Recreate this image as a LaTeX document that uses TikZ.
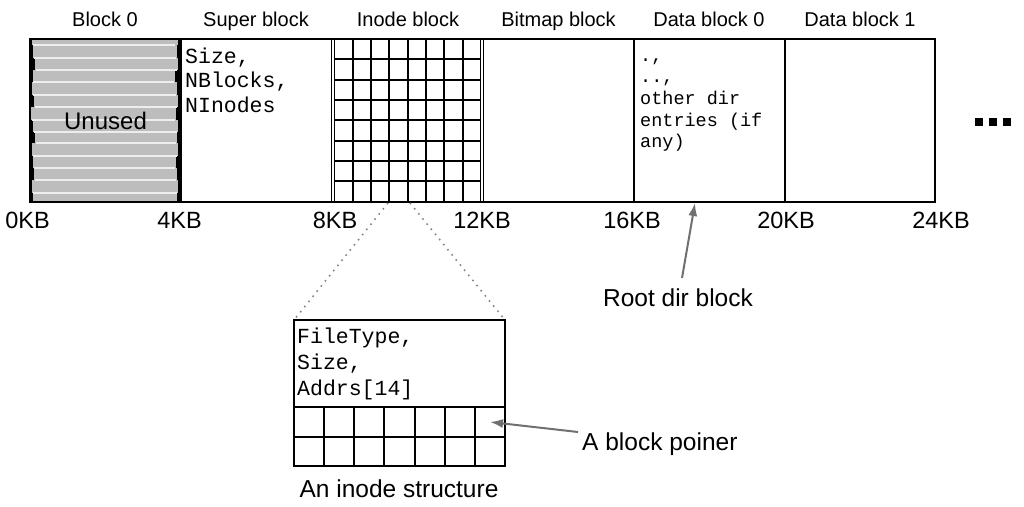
\documentclass[tikz,border=0pt]{standalone}
\usepackage{fontspec}
\setmainfont{Liberation Sans}
\setmonofont{Liberation Mono}
\usetikzlibrary{arrows.meta}
\definecolor{stripegray}{HTML}{BDBDBD}
\definecolor{stripelight}{HTML}{EDEDED}
\definecolor{arrowgray}{HTML}{707070}
\definecolor{dotgray}{HTML}{858585}
\begin{document}
\begin{tikzpicture}[x=1pt,y=-1pt,
  toplbl/.style={font=\fontsize{20}{24}\selectfont, anchor=base, inner sep=0pt},
  kblbl/.style={font=\fontsize{23.5}{28}\selectfont, anchor=base, inner sep=0pt},
  biglbl/.style={font=\fontsize{24.5}{29}\selectfont, anchor=base, inner sep=0pt},
  monotxt/.style={anchor=base west, inner sep=0pt},
  blkline/.style={line width=2pt},
  thinline/.style={line width=1pt},
  ptr/.style={draw=arrowgray, line width=2pt, -{Latex[length=13pt,width=9pt]}},
  zoomline/.style={draw=dotgray, line width=1.6pt, dash pattern=on 1.6pt off 5pt},
  boxnode/.style={draw, line width=2pt, inner sep=0pt, outer sep=0pt}]
\useasboundingbox (0,0) rectangle (1024,506);

% ---- Block 0 (unused, striped) ----
\fill[black] (29,37.5) rectangle (181.5,202.5);
\foreach \ya/\yb/\xl/\xr in {39/45/32/178, 45/58/33/177, 58/70/35/178, 70/82/33/175,
  82/95/32/177, 95/107/34/178, 107/120/31/176, 120/132/33/178, 132/143/35/177,
  143/156/32/178, 156/168/33/176, 168/180/34/177, 180/193/32/178, 193/201/33/177}
  \fill[stripegray] (\xl,\ya) rectangle (\xr,\yb);
\foreach \y/\xl/\xr in {45/33/175, 58/34/176, 70/36/177, 82/33/174, 95/33/176,
  107/35/177, 120/32/175, 132/34/177, 143/36/176, 156/33/177, 168/34/175,
  180/35/176, 193/33/177}
  \draw[stripelight, line width=2.2pt] (\xl,\y) -- (\xr,\y);
\node[biglbl, font=\fontsize{24}{29}\selectfont] (unused) at (105.5,129.5) {Unused};

% ---- main strip ----
\draw[blkline] (30,39) rectangle (935,201.5);
\draw[blkline] (180.5,39) -- (180.5,201.5);
\draw[blkline] (634,39) -- (634,201.5);
\draw[blkline] (785,39) -- (785,201.5);
% inode block: double borders and grid
\draw[thinline] (331.6,39) -- (331.6,201.5);
\draw[thinline] (334.4,39) -- (334.4,201.5);
\draw[thinline] (480.8,39) -- (480.8,201.5);
\draw[thinline] (483.6,39) -- (483.6,201.5);
\foreach \k in {1,...,7}
  \draw[blkline] ({334.4+\k*18.3},39) -- ({334.4+\k*18.3},201.5);
\foreach \k in {1,...,7}
  \draw[blkline] (334.4,{39+\k*20.3}) -- (480.8,{39+\k*20.3});

% ---- top labels ----
\node[toplbl] (l0) at (105,27) {Block 0};
\node[toplbl] (l1) at (256,27) {Super block};
\node[toplbl] (l2) at (408,27) {Inode block};
\node[toplbl] (l3) at (558.5,27) {Bitmap block};
\node[toplbl] (l4) at (709,27) {Data block 0};
\node[toplbl] (l5) at (860,27) {Data block 1};

% ---- size labels ----
\node[kblbl] (k0) at (27.5,228) {0KB};
\node[kblbl] (k1) at (179.5,228) {4KB};
\node[kblbl] (k2) at (335,228) {8KB};
\node[kblbl] (k3) at (482,228) {12KB};
\node[kblbl] (k4) at (632,228) {16KB};
\node[kblbl] (k5) at (786,228) {20KB};
\node[kblbl] (k6) at (941,228) {24KB};

% ---- block contents ----
\node[monotxt] (sbtxt) at (185,63) {\fontsize{21.5}{24.5}\selectfont\ttfamily
  \begin{tabular}[t]{@{}l@{}}Size,\\NBlocks,\\NInodes\end{tabular}};
\node[monotxt] (dbtxt) at (640,61) {\fontsize{18.5}{21.7}\selectfont\ttfamily
  \begin{tabular}[t]{@{}l@{}}.,\\..,\\other dir\\entries (if\\any)\end{tabular}};

% ---- ellipsis ----
\foreach \x [count=\i] in {975,989,1003}
  \node[fill=black, inner sep=0pt, minimum width=8pt, minimum height=8.5pt] (dot\i) at (\x+4,122) {};

% ---- inode structure ----
\node[boxnode, minimum width=211pt, minimum height=146pt] (ibox) at (399.5,393) {};
\draw[blkline] (294,407) -- (505,407);
\draw[blkline] (294,437) -- (505,437);
\foreach \k in {1,...,6}
  \draw[blkline] ({294+\k*30.14},407) -- ({294+\k*30.14},466);
\node[monotxt] (itxt) at (297,343) {\fontsize{21.5}{26}\selectfont\ttfamily
  \begin{tabular}[t]{@{}l@{}}FileType,\\Size,\\Addrs[14]\end{tabular}};
\node[biglbl] (ilbl) at (399,497) {An inode structure};

% ---- zoom lines ----
\coordinate (zA) at (388,203);
\coordinate (zB) at (410,203);
\draw[zoomline] (zA) -- (ibox.north west);
\draw[zoomline] (zB) -- (ibox.north east);

% ---- annotations ----
\node[biglbl] (rootlbl) at (678,306.5) {Root dir block};
\coordinate (rootTail) at (682,278);
\coordinate (rootTip) at (695,203);
\draw[ptr] (rootTail) -- (rootTip);
\node[biglbl, anchor=base west] (ptrlbl) at (582,450) {A block poiner};
\coordinate (ptrTail) at (578,432);
\coordinate (ptrTip) at (490,422);
\draw[ptr] (ptrTail) -- (ptrTip);
\end{tikzpicture}
\end{document}
